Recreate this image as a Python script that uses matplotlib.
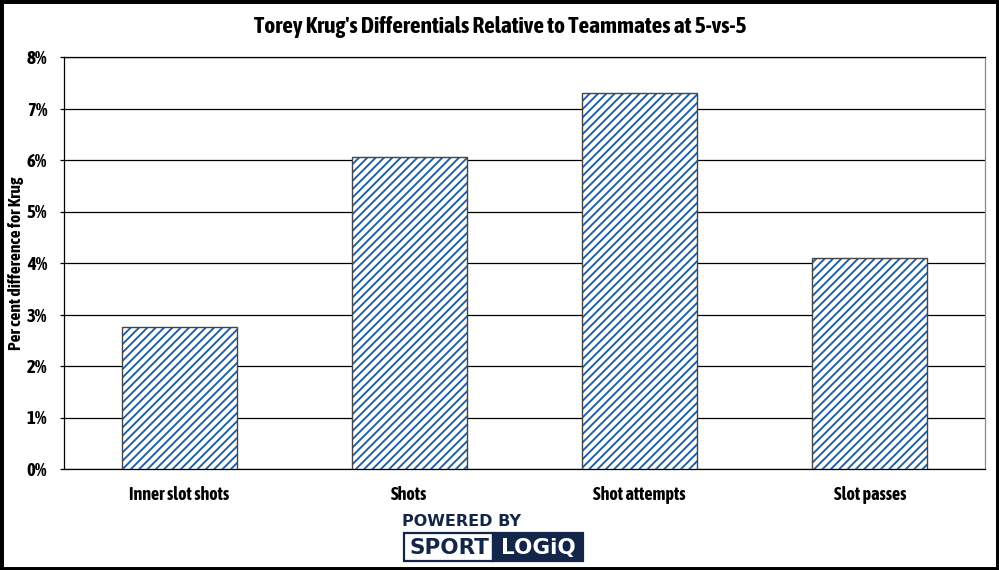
import matplotlib
matplotlib.use("Agg")
import matplotlib.pyplot as plt
from matplotlib.patches import Rectangle
from matplotlib.ticker import FuncFormatter

categories = ["Inner slot shots", "Shots", "Shot attempts", "Slot passes"]
values = [2.75, 6.06, 7.30, 4.10]
y_ticks = [0, 1, 2, 3, 4, 5, 6, 7, 8]

title = "Torey Krug's Differentials Relative to Teammates at 5-vs-5"
ylabel = "Per cent difference for Krug"

FONT = ["Asap Condensed", "DejaVu Sans"]
LOGO_FONT = ["DejaVu Sans"]
plt.rcParams["font.family"] = FONT
plt.rcParams["hatch.linewidth"] = 1.35

BLUE = "#1b5ea6"
NAVY = "#14254a"

fig = plt.figure(figsize=(9.99, 5.70), dpi=100)
ax = fig.add_axes([64 / 999, 1 - 469 / 570, 921 / 999, 412 / 570])

x = list(range(len(categories)))
ax.bar(x, values, width=0.5, color="white", edgecolor=BLUE, linewidth=0,
       hatch="////", zorder=3)
ax.bar(x, values, width=0.5, fill=False, edgecolor="#444444", linewidth=1.0,
       zorder=4)

ax.set_xlim(-0.5, len(categories) - 0.5)
ax.set_ylim(0, 8)
ax.set_yticks(y_ticks)
ax.yaxis.set_major_formatter(FuncFormatter(lambda v, p: f"{int(v)}%"))
ax.set_xticks(x)
ax.set_xticklabels(categories)

ax.yaxis.grid(True, color="black", linewidth=0.9, zorder=0)
ax.set_axisbelow(True)

for s in ["left", "bottom", "top"]:
    ax.spines[s].set_color("black")
    ax.spines[s].set_linewidth(0.9)
ax.spines["right"].set_color("#888888")
ax.spines["right"].set_linewidth(0.9)

ax.tick_params(axis="y", length=3, width=0.9, pad=9, labelsize=13.5)
ax.tick_params(axis="x", length=0, pad=12, labelsize=13)
for lbl in ax.get_xticklabels() + ax.get_yticklabels():
    lbl.set_fontweight("bold")

fig.text(500 / 999, 1 - 27 / 570, title, ha="center", va="center",
         fontsize=16.8, fontweight="bold")
fig.text(16 / 999, 1 - 263 / 570, ylabel, ha="center", va="center",
         rotation=90, fontsize=12.6, fontweight="bold")

# Logo
fig.text(462 / 999, 1 - 521 / 570, "POWERED BY", ha="center", va="center",
         fontsize=11.5, fontweight="bold", color=NAVY, family=LOGO_FONT)
fig.add_artist(Rectangle((404 / 999, 1 - 561 / 570), 89 / 999, 28 / 570,
                         transform=fig.transFigure, facecolor="white",
                         edgecolor=NAVY, linewidth=1.6))
fig.add_artist(Rectangle((493 / 999, 1 - 561 / 570), 90 / 999, 28 / 570,
                         transform=fig.transFigure, facecolor=NAVY,
                         edgecolor=NAVY, linewidth=1.6))
fig.text(449 / 999, 1 - 548 / 570, "SPORT", ha="center", va="center",
         fontsize=15.5, fontweight="bold", color=NAVY, family=LOGO_FONT)
fig.text(538 / 999, 1 - 548 / 570, "LOGiQ", ha="center", va="center",
         fontsize=15.5, fontweight="bold", color="white", family=LOGO_FONT)

# Figure border
fig.add_artist(Rectangle((0, 0), 1, 1, transform=fig.transFigure,
                         fill=False, edgecolor="black", linewidth=5))

fig.savefig("out.png", dpi=100)
